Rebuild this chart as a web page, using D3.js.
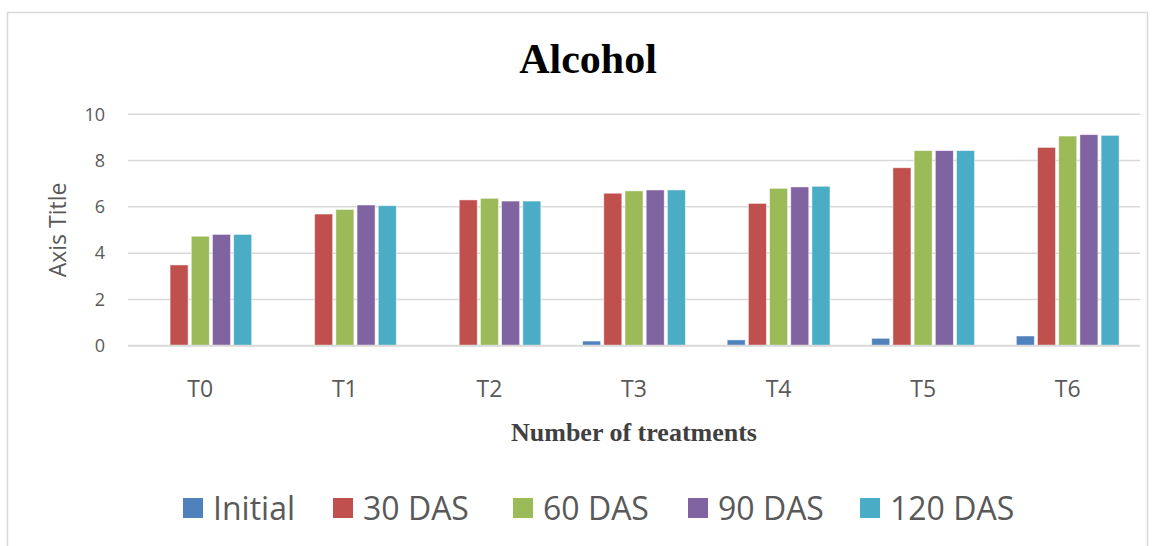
<!DOCTYPE html>
<html>
<head>
<meta charset="utf-8">
<script src="https://cdn.jsdelivr.net/npm/d3@7"></script>
<style>
  html, body { margin: 0; padding: 0; background: #ffffff; }
  svg { display: block; }
</style>
</head>
<body>
<svg id="chart" width="1156" height="546"></svg>
<script>
// Alcohol content by treatment across sampling stages
const categories = ["T0", "T1", "T2", "T3", "T4", "T5", "T6"];
const seriesNames = ["Initial", "30 DAS", "60 DAS", "90 DAS", "120 DAS"];
const initialValues = [0, 0.03, 0.03, 0.2, 0.25, 0.32, 0.42];
const das30Values  = [3.49, 5.69, 6.30, 6.59, 6.15, 7.69, 8.57];
const das60Values  = [4.73, 5.89, 6.37, 6.69, 6.80, 8.43, 9.06];
const das90Values  = [4.81, 6.08, 6.25, 6.73, 6.86, 8.43, 9.12];
const das120Values = [4.81, 6.05, 6.25, 6.73, 6.89, 8.43, 9.09];
const yTicks = [0, 2, 4, 6, 8, 10];
const seriesColors = ["#4f81bd", "#c0504d", "#9bbb59", "#8064a2", "#4bacc6"];

const seriesValues = [initialValues, das30Values, das60Values, das90Values, das120Values];
const rows = categories.map((c, i) => ({
  cat: c,
  vals: seriesNames.map((s, j) => ({ key: s, value: seriesValues[j][i], color: seriesColors[j] }))
}));

const svg = d3.select("#chart");
const plot = { left: 128, right: 1140, top: 114.3, bottom: 345.7 };

// outer chart frame
svg.append("rect")
  .attr("x", 7.5).attr("y", 12.5)
  .attr("width", 1140).attr("height", 560)
  .attr("fill", "none").attr("stroke", "#d9d9d9").attr("stroke-width", 1.5);

const x = d3.scaleBand().domain(categories).range([plot.left, plot.right]).padding(0);
const xs = d3.scaleBand().domain(seriesNames).range([0, x.bandwidth()])
  .paddingInner(0.15).paddingOuter(0.985);
const y = d3.scaleLinear().domain([0, 10]).range([plot.bottom, plot.top]);

// horizontal gridlines
svg.append("g").selectAll("line").data(yTicks.filter(t => t > 0)).join("line")
  .attr("x1", plot.left).attr("x2", plot.right)
  .attr("y1", d => y(d)).attr("y2", d => y(d))
  .attr("stroke", "#d9d9d9").attr("stroke-width", 1.5);

// y tick labels
svg.append("g").selectAll("text").data(yTicks).join("text")
  .attr("x", 105).attr("y", d => y(d))
  .attr("dy", "0.35em")
  .attr("text-anchor", "end")
  .attr("font-family", "'Open Sans', sans-serif")
  .attr("font-size", 18)
  .attr("fill", "#595959")
  .text(d => d);

// bars
const groups = svg.append("g").selectAll("g").data(rows).join("g")
  .attr("transform", d => `translate(${x(d.cat)},0)`);
groups.selectAll("rect").data(d => d.vals).join("rect")
  .attr("x", d => xs(d.key))
  .attr("width", xs.bandwidth())
  .attr("y", d => y(d.value))
  .attr("height", d => y(0) - y(d.value))
  .attr("fill", d => d.color)
  .attr("stroke", "#ffffff").attr("stroke-opacity", 0.6).attr("stroke-width", 0.8);

// category axis line
svg.append("line")
  .attr("x1", plot.left).attr("x2", plot.right)
  .attr("y1", y(0)).attr("y2", y(0))
  .attr("stroke", "#d9d9d9").attr("stroke-width", 2);

// category labels
svg.append("g").selectAll("text").data(categories).join("text")
  .attr("x", d => x(d) + x.bandwidth() / 2)
  .attr("y", 389)
  .attr("dy", "0.35em")
  .attr("text-anchor", "middle")
  .attr("font-family", "'Open Sans', sans-serif")
  .attr("font-size", 23)
  .attr("fill", "#595959")
  .text(d => d);

// title
svg.append("text")
  .attr("x", 588).attr("y", 73)
  .attr("text-anchor", "middle")
  .attr("font-family", "'Liberation Serif', serif")
  .attr("font-weight", "bold")
  .attr("font-size", 42)
  .attr("fill", "#000000")
  .text("Alcohol");

// x axis title
svg.append("text")
  .attr("x", 634).attr("y", 441)
  .attr("text-anchor", "middle")
  .attr("font-family", "'Liberation Serif', serif")
  .attr("font-weight", "bold")
  .attr("font-size", 26)
  .attr("fill", "#404040")
  .text("Number of treatments");

// y axis title
svg.append("text")
  .attr("transform", "translate(66,230) rotate(-90)")
  .attr("text-anchor", "middle")
  .attr("font-family", "'Open Sans', sans-serif")
  .attr("font-size", 23)
  .attr("fill", "#595959")
  .text("Axis Title");

// legend
const legendX = [183, 333, 513, 688, 860];
const legend = svg.append("g").selectAll("g").data(seriesNames).join("g")
  .attr("transform", (d, i) => `translate(${legendX[i]},508)`);
legend.append("rect")
  .attr("x", 0).attr("y", -10).attr("width", 20).attr("height", 20)
  .attr("fill", (d, i) => seriesColors[i]);
legend.append("text")
  .attr("x", 30).attr("y", 0).attr("dy", "0.36em")
  .attr("font-family", "'Open Sans', sans-serif")
  .attr("font-size", 32)
  .attr("fill", "#595959")
  .text(d => d);
</script>
</body>
</html>
